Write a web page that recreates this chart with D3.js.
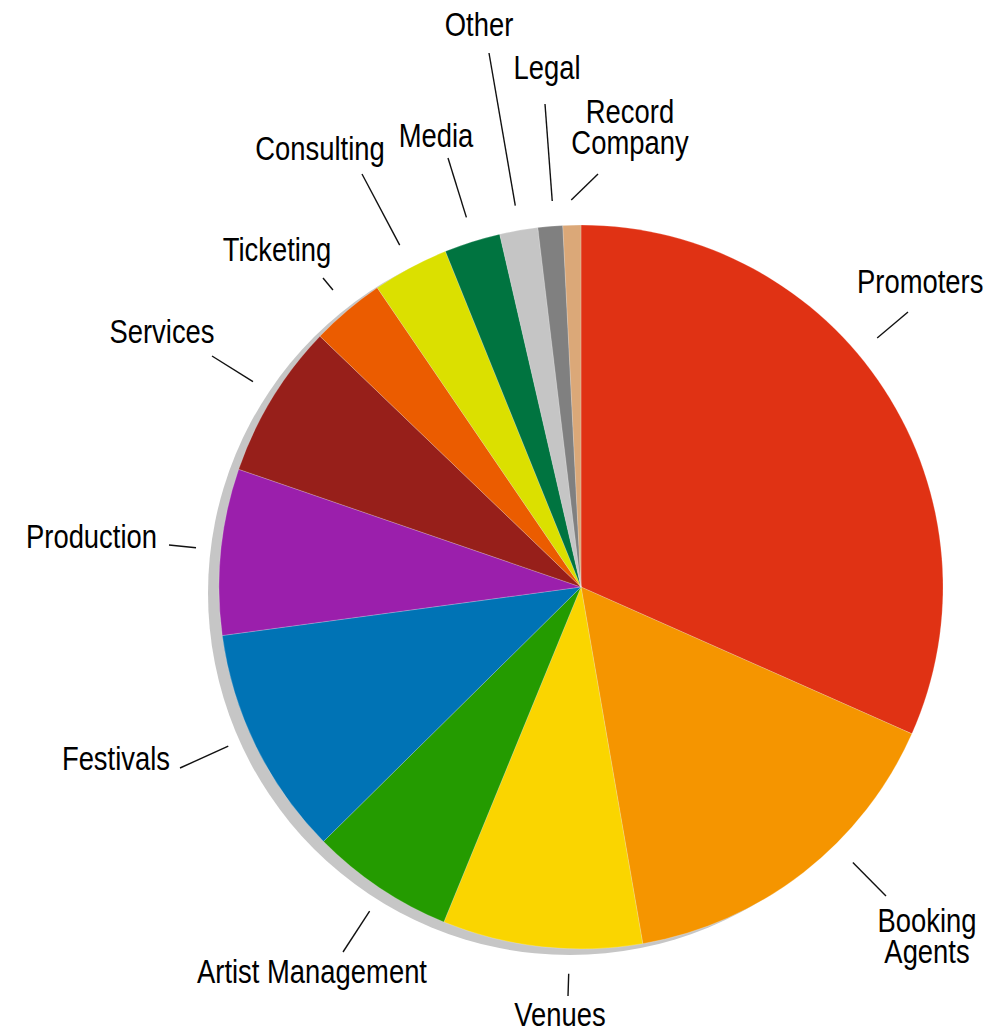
<!DOCTYPE html>
<html>
<head>
<meta charset="utf-8">
<script src="https://cdn.jsdelivr.net/npm/d3@7"></script>
<style>
  html, body { margin: 0; padding: 0; background: #fff; }
  svg text { font-family: "Liberation Sans Narrow", "Arial Narrow", "Liberation Sans", Arial, sans-serif; font-size: 33px; fill: #000; }
</style>
</head>
<body>
<svg id="chart" width="995" height="1033"></svg>
<script>
// ---- data ----
const categories = ["Promoters", "Booking Agents", "Venues", "Artist Management", "Festivals",
  "Production", "Services", "Ticketing", "Consulting", "Media", "Other", "Legal", "Record Company"];
const shares = [31.6, 15.6, 8.9, 6.4, 10.25, 7.4, 6.9, 3.3, 3.4, 2.5, 1.7, 1.1, 0.8];
const colors = ["#e03214", "#f59500", "#fad500", "#249b00", "#0073b5", "#9b1fac", "#971f1a",
  "#eb5c00", "#dbe000", "#007440", "#c5c5c5", "#808080", "#dba878"];

// ---- label layout (leader-line end and text placement) ----
const labelLayout = [
  { lx: 908, ly: 312, tx: 857, ty: 293, anchor: "start", lines: ["Promoters"] },
  { lx: 886, ly: 896, tx: 927, ty: 932, anchor: "middle", lines: ["Booking", "Agents"] },
  { lx: 568, ly: 996, tx: 560, ty: 1026, anchor: "middle", lines: ["Venues"] },
  { lx: 343, ly: 952, tx: 312, ty: 983, anchor: "middle", lines: ["Artist Management"] },
  { lx: 180, ly: 768, tx: 170, ty: 770, anchor: "end", lines: ["Festivals"] },
  { lx: 169, ly: 545, tx: 157, ty: 548, anchor: "end", lines: ["Production"] },
  { lx: 212, ly: 356, tx: 162, ty: 343, anchor: "middle", lines: ["Services"] },
  { lx: 323, ly: 278, tx: 277, ty: 261, anchor: "middle", lines: ["Ticketing"] },
  { lx: 362, ly: 174, tx: 320, ty: 160, anchor: "middle", lines: ["Consulting"] },
  { lx: 448, ly: 158, tx: 436, ty: 147, anchor: "middle", lines: ["Media"] },
  { lx: 489, ly: 53, tx: 479, ty: 36, anchor: "middle", lines: ["Other"] },
  { lx: 545, ly: 104, tx: 547, ty: 79, anchor: "middle", lines: ["Legal"] },
  { lx: 598, ly: 174, tx: 630, ty: 123, anchor: "middle", lines: ["Record", "Company"], fromSlice: true }
];

const cx = 581, cy = 587, R = 362;
const svg = d3.select("#chart");

const pie = d3.pie().sort(null).value(d => d.v);
const data = categories.map((c, i) => ({ name: c, v: shares[i], color: colors[i] }));
const arcs = pie(data);
const arc = d3.arc().innerRadius(0).outerRadius(R);

// shadow
svg.append("circle")
  .attr("cx", cx - 11).attr("cy", cy + 6).attr("r", R)
  .attr("fill", "#c6c6c6");

const g = svg.append("g").attr("transform", `translate(${cx},${cy})`);
g.selectAll("path.slice").data(arcs).enter().append("path")
  .attr("class", "slice")
  .attr("d", arc)
  .attr("fill", d => d.data.color)
  .attr("stroke", "rgba(255,255,255,0.35)")
  .attr("stroke-width", 0.6);

// detect whether a true narrow face exists; otherwise compress horizontally
const probe = svg.append("text").text("Artist Management");
const probeW = probe.node().getComputedTextLength();
probe.remove();
const sx = probeW > 250 ? 230 / probeW : 1;

// labels + leader lines
const lab = svg.append("g");
arcs.forEach((d, i) => {
  const L = labelLayout[i];
  const r0 = R + 25;
  let x1, y1;
  if (L.fromSlice) {
    const a = (d.startAngle + d.endAngle) / 2;
    x1 = cx + Math.sin(a) * r0; y1 = cy - Math.cos(a) * r0;
  } else {
    const dx = L.lx - cx, dy = L.ly - cy;
    const dist = Math.hypot(dx, dy);
    x1 = cx + dx / dist * r0; y1 = cy + dy / dist * r0;
  }
  lab.append("line")
    .attr("x1", x1).attr("y1", y1).attr("x2", L.lx).attr("y2", L.ly)
    .attr("stroke", "#111").attr("stroke-width", 1.4);
  const t = lab.append("g")
    .attr("transform", `translate(${L.tx},${L.ty}) scale(${sx},1)`)
    .append("text")
    .attr("x", 0).attr("y", 0)
    .attr("text-anchor", L.anchor);
  L.lines.forEach((ln, k) => {
    t.append("tspan").attr("x", 0).attr("dy", k === 0 ? 0 : 31).text(ln);
  });
});
</script>
</body>
</html>
